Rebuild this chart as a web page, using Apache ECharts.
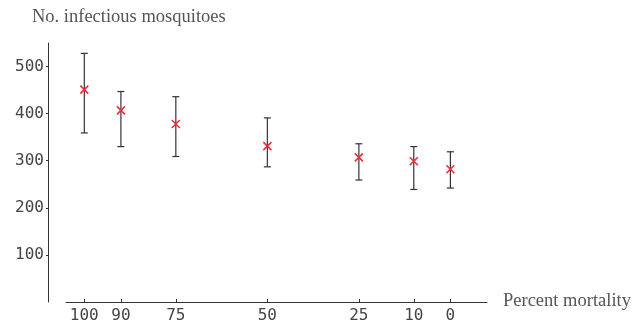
<!DOCTYPE html>
<html><head><meta charset="utf-8">
<script src="https://cdn.jsdelivr.net/npm/echarts@6/dist/echarts.min.js"></script>
<style>html,body{margin:0;padding:0;background:#fff}#c{width:636px;height:320px}</style>
</head><body><div id="c"></div>
<script>
const mortality = [100, 90, 75, 50, 25, 10, 0];
const meanValues = [451, 407, 378, 331, 307, 299, 282];
const upperValues = [528, 447, 436, 391, 336, 330, 319];
const lowerValues = [359, 330, 309, 287, 259, 239, 242];
const xTickLabels = [100, 90, 75, 50, 25, 10, 0];
const yTickLabels = [100, 200, 300, 400, 500];

const chart = echarts.init(document.getElementById('c'));
const errData = mortality.map((m, i) => [m, lowerValues[i], upperValues[i]]);
const meanData = mortality.map((m, i) => [m, meanValues[i]]);
const labelFont = {fontFamily: 'DejaVu Sans Mono', fontSize: 16, color: '#444'};

chart.setOption({
  animation: false,
  grid: {left: 66, right: 149, top: 43, bottom: 18, outerBoundsMode: 'none', containLabel: false},
  xAxis: {
    type: 'value', inverse: true, min: -10, max: 105,
    axisLine: {onZero: false, lineStyle: {color: '#333', width: 1}},
    axisTick: {show: true, inside: true, length: 3, lineStyle: {color: '#333'}, customValues: xTickLabels},
    axisLabel: Object.assign({customValues: xTickLabels, margin: 6}, labelFont),
    splitLine: {show: false}
  },
  yAxis: {
    type: 'value', min: 0, max: 550, interval: 100, offset: 18,
    axisLine: {show: true, onZero: false, lineStyle: {color: '#333', width: 1}},
    axisTick: {show: true, length: 2, lineStyle: {color: '#333'}, customValues: yTickLabels},
    axisLabel: Object.assign({customValues: yTickLabels, margin: 4}, labelFont),
    splitLine: {show: false}
  },
  graphic: [
    {type: 'text', left: 32, top: 8, style: {text: 'No. infectious mosquitoes', fontFamily: 'Liberation Serif', fontSize: 18.5, fill: '#555'}},
    {type: 'text', left: 503, top: 292, style: {text: 'Percent mortality', fontFamily: 'Liberation Serif', fontSize: 18.5, fill: '#555'}}
  ],
  series: [
    {
      type: 'custom', data: errData,
      renderItem: function (params, api) {
        const x = api.value(0);
        const lo = api.coord([x, api.value(1)]);
        const hi = api.coord([x, api.value(2)]);
        const w = 3.5;
        const st = {stroke: '#333', lineWidth: 1.2};
        return {type: 'group', children: [
          {type: 'line', shape: {x1: lo[0], y1: lo[1], x2: hi[0], y2: hi[1]}, style: st},
          {type: 'line', shape: {x1: lo[0] - w, y1: lo[1], x2: lo[0] + w, y2: lo[1]}, style: st},
          {type: 'line', shape: {x1: hi[0] - w, y1: hi[1], x2: hi[0] + w, y2: hi[1]}, style: st}
        ]};
      }
    },
    {
      type: 'custom', data: meanData, z: 5,
      renderItem: function (params, api) {
        const p = api.coord([api.value(0), api.value(1)]);
        const s = 4;
        const st = {stroke: '#e8303a', lineWidth: 1.6};
        return {type: 'group', children: [
          {type: 'line', shape: {x1: p[0] - s, y1: p[1] - s, x2: p[0] + s, y2: p[1] + s}, style: st},
          {type: 'line', shape: {x1: p[0] - s, y1: p[1] + s, x2: p[0] + s, y2: p[1] - s}, style: st}
        ]};
      }
    }
  ]
});
</script></body></html>
